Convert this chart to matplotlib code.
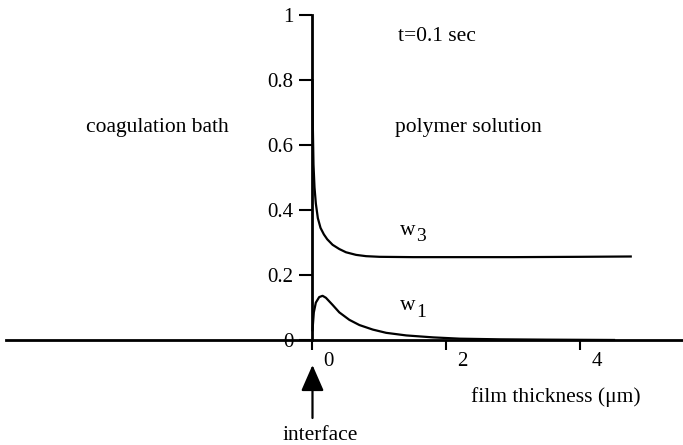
import numpy as np
import matplotlib
matplotlib.use("Agg")
import matplotlib.pyplot as plt
from matplotlib.transforms import offset_copy

plt.rcParams['font.family'] = ['Liberation Serif', 'DejaVu Serif']

# film thickness (um) and the two curves at t = 0.1 sec
x_w3 = [0, 0.005, 0.015, 0.03, 0.05, 0.08, 0.12, 0.17, 0.22, 0.3, 0.4, 0.5, 0.65, 0.8, 1.0, 1.5, 2.0, 3.0, 4.0, 4.75]
w3 = [0.80, 0.66, 0.54, 0.47, 0.42, 0.375, 0.345, 0.325, 0.31, 0.293, 0.28, 0.27, 0.262, 0.258, 0.256, 0.255, 0.255, 0.255, 0.256, 0.257]

x_w1 = [0, 0.02, 0.05, 0.1, 0.15, 0.2, 0.3, 0.4, 0.55, 0.7, 0.9, 1.1, 1.4, 1.8, 2.2, 2.8, 3.5, 4.5]
w1 = [0.03, 0.085, 0.115, 0.132, 0.136, 0.13, 0.108, 0.085, 0.062, 0.046, 0.032, 0.022, 0.014, 0.008, 0.004, 0.002, 0.001, 0.0]

yticks = [0, 0.2, 0.4, 0.6, 0.8, 1]
ytick_labels = ['0', '0.2', '0.4', '0.6', '0.8', '1']
xticks = [0, 2, 4]
xtick_labels = ['0', '2', '4']

fig = plt.figure(figsize=(6.83, 4.45), dpi=100)
ax = fig.add_axes([0, 0.236, 1, 0.730])
ax.set_xlim(-4.664, 5.530)
ax.set_ylim(0, 1)

ax.plot(x_w3, w3, color='black', lw=1.6, clip_on=False)
ax.plot(x_w1, w1, color='black', lw=1.6, clip_on=False)

# axes crossing at the interface
for s in ['top', 'right']:
    ax.spines[s].set_visible(False)
ax.spines['left'].set_position(('data', 0))
ax.spines['left'].set_linewidth(2)
ax.spines['bottom'].set_linewidth(2)
ax.spines['bottom'].set_bounds(-4.57, 5.53)

ax.set_yticks(yticks)
ax.set_yticklabels(ytick_labels, fontsize=15)
ax.tick_params(axis='y', direction='out', length=9.5, width=1.5, pad=4)

ax.set_xticks(xticks)
ax.set_xticklabels([])
ax.tick_params(axis='x', direction='out', length=7, width=1.5)
lab_tr = offset_copy(ax.transData, fig=fig, x=16, y=-22, units='dots')
for xt, lab in zip(xticks, xtick_labels):
    ax.text(xt, 0, lab, transform=lab_tr, fontsize=15, ha='center', va='center')

ax.text(-2.31, 0.655, 'coagulation bath', fontsize=15.5, ha='center', va='center')
ax.text(2.33, 0.655, 'polymer solution', fontsize=15.5, ha='center', va='center')
ax.text(1.85, 0.935, 't=0.1 sec', fontsize=15.5, ha='center', va='center')

ax.text(1.42, 0.338, 'w', fontsize=15.5, ha='center', va='center')
ax.text(1.62, 0.318, '3', fontsize=14, ha='center', va='center')
ax.text(1.42, 0.105, 'w', fontsize=15.5, ha='center', va='center')
ax.text(1.62, 0.085, '1', fontsize=14, ha='center', va='center')

fig.text(556 / 683, 1 - 397 / 445, 'film thickness (\u03bcm)', fontsize=15.5, ha='center', va='center')
fig.text(320 / 683, 1 - 436 / 445, 'interface', fontsize=15.5, ha='center', va='center')

ax.annotate('', xy=(0, 80), xytext=(0, 27),
            xycoords=('data', 'figure pixels'), textcoords=('data', 'figure pixels'),
            arrowprops=dict(arrowstyle='-|>,head_length=16,head_width=7', mutation_scale=1,
                            lw=1.6, color='black', shrinkA=0, shrinkB=0))

fig.savefig('out.png', dpi=100)
